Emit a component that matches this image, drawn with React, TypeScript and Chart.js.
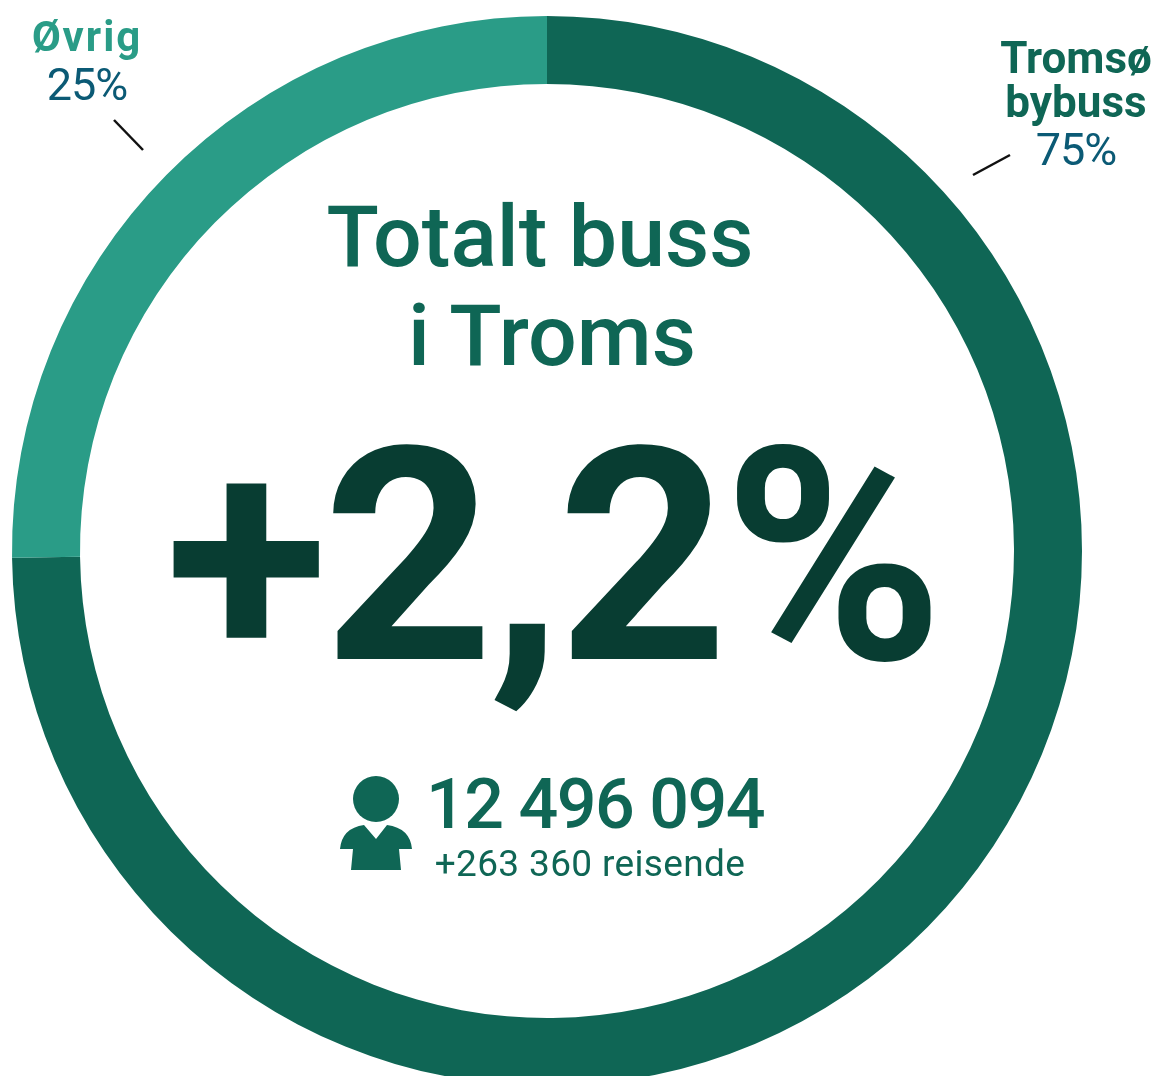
import React, { useEffect, useRef } from "react";
import { Chart, registerables } from "chart.js";

Chart.register(...registerables);

const categories = ["Tromsø bybuss", "Øvrig"];
const shares = [74.8, 25.2];
const shareLabels = ["75%", "25%"];
const sliceColors = ["#0f6655", "#2a9c87"];
const titleLines = ["Totalt buss", "i Troms"];
const bigNumber = "+2,2%";
const passengers = "12 496 094";
const passengersChange = "+263 360 reisende";

const FONT = "Roboto, sans-serif";

function T({ text, cx, base, size, weight, color, ls = 0 }: any) {
  return (
    <div
      style={{
        position: "absolute",
        left: cx - 600,
        width: 1200,
        top: base - size * 0.941,
        height: size * 1.2,
        lineHeight: `${size * 1.2}px`,
        textAlign: "center",
        whiteSpace: "pre",
        fontFamily: FONT,
        fontSize: size,
        fontWeight: weight,
        color,
        letterSpacing: ls,
      }}
    >
      {text}
    </div>
  );
}

export default function App() {
  const ref = useRef<HTMLCanvasElement>(null);
  useEffect(() => {
    const chart = new Chart(ref.current!, {
      type: "doughnut",
      data: {
        labels: categories,
        datasets: [{ data: shares, backgroundColor: sliceColors, borderWidth: 0 }],
      },
      options: {
        animation: false,
        responsive: false,
        cutout: 467,
        layout: { padding: { left: 12, top: 16, right: 73, bottom: 14 } },
        plugins: { legend: { display: false }, tooltip: { enabled: false } },
      },
    });
    return () => chart.destroy();
  }, []);
  return (
    <div style={{ position: "fixed", left: 0, top: 0, width: 1155, height: 1076, overflow: "hidden", background: "#fff" }}>
      <canvas ref={ref} width={1155} height={1100} style={{ position: "absolute", left: 0, top: 0, width: 1155, height: 1100 }} />
      <T text={titleLines[0]} cx={540} base={266} size={86} weight={500} color={sliceColors[0]} />
      <T text={titleLines[1]} cx={552} base={365} size={86} weight={500} color={sliceColors[0]} />
      <T text={bigNumber} cx={552} base={659} size={298} weight={700} color="#083d32" ls={-5} />
      <T text={passengers} cx={595} base={828} size={70} weight={500} color={sliceColors[0]} ls={-1.5} />
      <T text={passengersChange} cx={590} base={877} size={37} weight={400} color={sliceColors[0]} ls={0.35} />
      <T text={categories[1]} cx={87} base={52} size={42} weight={700} color={sliceColors[1]} ls={2} />
      <T text={shareLabels[1]} cx={87} base={100} size={45} weight={400} color="#0b5a75" ls={-1} />
      <T text="Tromsø" cx={1076} base={73} size={44} weight={700} color={sliceColors[0]} />
      <T text="bybuss" cx={1076} base={117} size={44} weight={700} color={sliceColors[0]} />
      <T text={shareLabels[0]} cx={1076} base={165} size={45} weight={400} color="#0b5a75" ls={-1} />
      <svg width={1155} height={1076} style={{ position: "absolute", left: 0, top: 0 }}>
        <line x1={114} y1={120} x2={143} y2={150} stroke="#111" strokeWidth={2.5} />
        <line x1={973} y1={175} x2={1010} y2={155} stroke="#111" strokeWidth={2.5} />
        <g fill={sliceColors[0]}>
          <circle cx={376} cy={799} r={23} />
          <path d="M364 825 L376 839 L387 825 Q410 828 412 849 L399 849 L401 870 L351 870 L353 849 L340 849 Q342 828 364 825 Z" />
        </g>
      </svg>
    </div>
  );
}
